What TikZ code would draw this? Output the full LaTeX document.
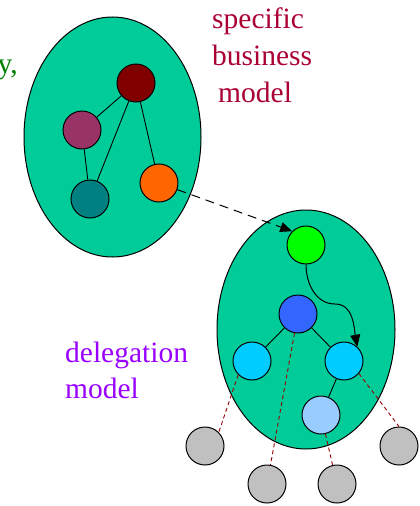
\documentclass[tikz,border=0pt]{standalone}
\usepackage{fontspec}
\setmainfont{Liberation Serif}
\usetikzlibrary{arrows.meta}
\definecolor{seagreen}{RGB}{0,204,153}
\definecolor{cmaroon}{RGB}{128,0,0}
\definecolor{cplum}{RGB}{153,51,102}
\definecolor{cteal}{RGB}{0,128,128}
\definecolor{corange}{RGB}{255,102,0}
\definecolor{cgreen}{RGB}{0,255,0}
\definecolor{cblue}{RGB}{51,102,255}
\definecolor{csky}{RGB}{0,204,255}
\definecolor{cpale}{RGB}{153,204,255}
\definecolor{cgray}{RGB}{192,192,192}
\definecolor{ctextred}{RGB}{170,0,51}
\definecolor{ctextpurple}{RGB}{153,0,255}
\definecolor{ctextgreen}{RGB}{0,128,0}
\definecolor{cdash}{RGB}{153,0,0}
\tikzset{
  blob/.style={draw=black, line width=1pt, fill=seagreen},
  dot/.style={circle, draw=black, line width=1pt, minimum size=38pt, inner sep=0pt},
  link/.style={draw=black, line width=0.9pt},
  deleg/.style={draw=cdash, line width=0.9pt, dash pattern=on 4pt off 3pt},
  jump/.style={draw=black, line width=1pt, dash pattern=on 9pt off 6pt, -{Triangle[length=12pt,width=10pt]}},
  flow/.style={draw=black, line width=1pt, -{Triangle[length=12pt,width=10pt]}},
  lbl/.style={anchor=base west, inner sep=0pt, font=\fontsize{29.5pt}{36pt}\selectfont},
}
\begin{document}
\begin{tikzpicture}[x=1pt,y=1pt]
\useasboundingbox (0,0) rectangle (420,-506);
% ellipses
\path[blob] (112.5,-137) ellipse [x radius=88.5, y radius=120];
\path[blob] (306,-329.5) ellipse [x radius=89, y radius=119.5];
% top nodes
\node[dot, fill=cmaroon] (m) at (136,-83) {};
\node[dot, fill=cplum] (p) at (82,-130) {};
\node[dot, fill=cteal] (t) at (90,-199) {};
\node[dot, fill=corange] (o) at (159,-183) {};
\draw[link] (m) -- (p);
\draw[link] (m) -- (t);
\draw[link] (m) -- (o);
\draw[link] (p) -- (t);
% bottom nodes
\node[dot, fill=cgreen] (g) at (306,-245) {};
\node[dot, fill=cblue] (b) at (298,-314) {};
\node[dot, fill=csky] (ll) at (252,-361) {};
\node[dot, fill=csky] (lr) at (344,-361) {};
\node[dot, fill=cpale] (pb) at (321,-415) {};
\draw[link] (b) -- (ll);
\draw[link] (b) -- (lr);
\draw[link] (lr) -- (pb);
% gray nodes
\node[dot, fill=cgray] (g1) at (205,-446) {};
\node[dot, fill=cgray] (g2) at (267,-484) {};
\node[dot, fill=cgray] (g3) at (337,-484) {};
\node[dot, fill=cgray] (g4) at (399,-446) {};
\draw[deleg] (ll.-135) -- (g1.45);
\draw[deleg] (b) -- (g2);
\draw[deleg] (pb) -- (g3);
\draw[deleg] (lr.-40) -- (g4.north);
% arrows
\draw[jump] (o) -- (g.135);
\draw[flow] (g.south) to[out=-90,in=180] (335,-304) to[out=0,in=100] (lr.47);
% texts
\node[lbl, text=ctextred] (s1) at (212,-28) {specific};
\node[lbl, text=ctextred] (s2) at (212,-65) {business};
\node[lbl, text=ctextred] (s3) at (218,-102) {model};
\node[lbl, text=ctextpurple] (d1) at (65,-362) {delegation};
\node[lbl, text=ctextpurple] (d2) at (65,-398) {model};
\node[lbl, text=ctextgreen, anchor=base east] (y1) at (18,-73) {y,};
\end{tikzpicture}
\end{document}
